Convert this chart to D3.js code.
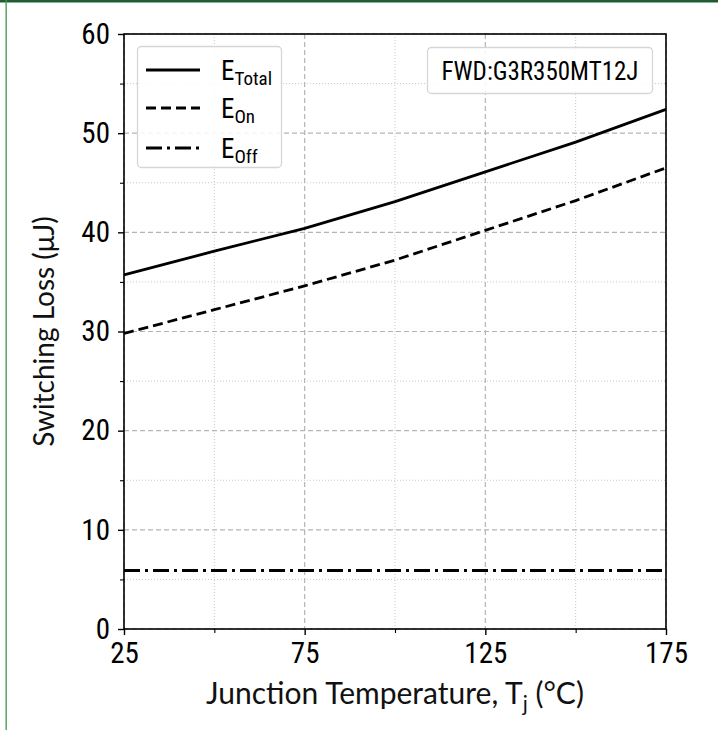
<!DOCTYPE html>
<html><head><meta charset="utf-8">
<script src="https://cdn.jsdelivr.net/npm/d3@7"></script>
<style>
body{margin:0;background:#fff;}
svg{display:block;}
.tick text{font-family:"Roboto Condensed","Liberation Sans Narrow",Roboto,sans-serif;}
</style></head>
<body>
<svg id="c" width="718" height="730"></svg>
<script>
const temps = [25, 50, 75, 100, 125, 150, 175];
const eTotal = [35.7, 38.1, 40.4, 43.1, 46.1, 49.1, 52.4];
const eOn = [29.8, 32.2, 34.6, 37.2, 40.2, 43.2, 46.5];
const eOff = [5.9, 5.9, 5.9, 5.9, 5.9, 5.9, 5.9];
const xMajor = [25, 75, 125, 175];
const xMinor = [50, 100, 150];
const yMajor = [0, 10, 20, 30, 40, 50, 60];
const yMinor = [5, 15, 25, 35, 45, 55];
const seriesNames = ["Total", "On", "Off"];
const deviceLabel = "FWD:G3R350MT12J";

const COND = "'Roboto Condensed','Liberation Sans Narrow',Roboto,sans-serif";
const svg = d3.select("#c");
svg.append("rect").attr("x",0).attr("y",0).attr("width",718).attr("height",2.5).attr("fill","#1f5c32");
svg.append("rect").attr("x",5.5).attr("y",0).attr("width",1.3).attr("height",730).attr("fill","#3b9a4c");

const L=124, R=666, T=34, B=629;
const x = d3.scaleLinear().domain([25,175]).range([L,R]);
const y = d3.scaleLinear().domain([0,60]).range([B,T]);

const g = svg.append("g");
g.selectAll(".mgx").data(xMinor).enter().append("line")
 .attr("x1",d=>x(d)).attr("x2",d=>x(d)).attr("y1",T).attr("y2",B)
 .attr("stroke","#c8c8c8").attr("stroke-width",1).attr("stroke-dasharray","1,2");
g.selectAll(".mgy").data(yMinor).enter().append("line")
 .attr("y1",d=>y(d)).attr("y2",d=>y(d)).attr("x1",L).attr("x2",R)
 .attr("stroke","#c8c8c8").attr("stroke-width",1).attr("stroke-dasharray","1,2");
g.selectAll(".Mgx").data(xMajor).enter().append("line")
 .attr("x1",d=>x(d)).attr("x2",d=>x(d)).attr("y1",T).attr("y2",B)
 .attr("stroke","#b4b4b4").attr("stroke-width",1.2).attr("stroke-dasharray","5,3");
g.selectAll(".Mgy").data(yMajor).enter().append("line")
 .attr("y1",d=>y(d)).attr("y2",d=>y(d)).attr("x1",L).attr("x2",R)
 .attr("stroke","#b4b4b4").attr("stroke-width",1.2).attr("stroke-dasharray","5,3");

const line = d3.line().x((d,i)=>x(temps[i])).y(d=>y(d));
const styles = [null, "10,5", "16,5,3,5"];
[eTotal,eOn,eOff].forEach((s,k)=>{
  const p = svg.append("path").datum(s).attr("d",line).attr("fill","none")
   .attr("stroke","#000").attr("stroke-width",2.8);
  if(styles[k]) p.attr("stroke-dasharray",styles[k]);
});

svg.append("rect").attr("x",L).attr("y",T).attr("width",R-L).attr("height",B-T)
 .attr("fill","none").attr("stroke","#000").attr("stroke-width",1.6);

const xAxis = d3.axisBottom(x).tickValues(xMajor).tickSize(6).tickPadding(7).tickFormat(d3.format("d"));
const gx = svg.append("g").attr("transform",`translate(0,${B})`).call(xAxis);
gx.select(".domain").remove();
gx.selectAll("text").attr("font-size",29).attr("fill","#000").attr("dy","0.72em");
gx.selectAll("line").attr("stroke-width",1.4);
const gxm = svg.append("g").attr("transform",`translate(0,${B})`).call(d3.axisBottom(x).tickValues(xMinor).tickSize(4).tickFormat(""));
gxm.select(".domain").remove(); gxm.selectAll("line").attr("stroke-width",1.1);

const yAxis = d3.axisLeft(y).tickValues(yMajor).tickSize(6).tickPadding(8).tickFormat(d3.format("d"));
const gy = svg.append("g").attr("transform",`translate(${L},0)`).call(yAxis);
gy.select(".domain").remove();
gy.selectAll("text").attr("font-size",29).attr("fill","#000");
gy.selectAll("line").attr("stroke-width",1.4);
const gym = svg.append("g").attr("transform",`translate(${L},0)`).call(d3.axisLeft(y).tickValues(yMinor).tickSize(4).tickFormat(""));
gym.select(".domain").remove(); gym.selectAll("line").attr("stroke-width",1.1);

svg.append("text").attr("x",395).attr("y",704).attr("text-anchor","middle")
 .attr("font-family","Lato, sans-serif").attr("font-size",30).attr("fill","#111")
 .html('Junction Temperature, T<tspan font-size="21" dy="7">j</tspan><tspan dy="-7"> (°C)</tspan>');
svg.append("text").attr("transform",`translate(54,${(T+B)/2}) rotate(-90)`).attr("text-anchor","middle")
 .attr("font-family","Lato, sans-serif").attr("font-size",28).attr("fill","#111")
 .text("Switching Loss (μJ)");

svg.append("rect").attr("x",137.5).attr("y",46.5).attr("width",144).attr("height",121).attr("rx",4)
 .attr("fill","rgba(255,255,255,0.85)").attr("stroke","#d6d6d6").attr("stroke-width",1.3);
const legY = [70, 108, 148];
seriesNames.forEach((n,k)=>{
  const ln = svg.append("line").attr("x1",146).attr("x2",200).attr("y1",legY[k]).attr("y2",legY[k])
   .attr("stroke","#000").attr("stroke-width",2.8);
  if(styles[k]) ln.attr("stroke-dasharray",styles[k]);
  svg.append("text").attr("x",221).attr("y",legY[k]+10)
   .attr("font-family",COND).attr("font-size",27).attr("fill","#000")
   .html(`E<tspan font-size="19" dy="5">${n}</tspan>`);
});

svg.append("rect").attr("x",427.5).attr("y",47.5).attr("width",225).attr("height",46).attr("rx",4)
 .attr("fill","rgba(255,255,255,0.85)").attr("stroke","#d6d6d6").attr("stroke-width",1.3);
svg.append("text").attr("x",540).attr("y",80).attr("text-anchor","middle")
 .attr("font-family",COND).attr("font-size",25).attr("fill","#000")
 .text(deviceLabel);
</script>
</body></html>
